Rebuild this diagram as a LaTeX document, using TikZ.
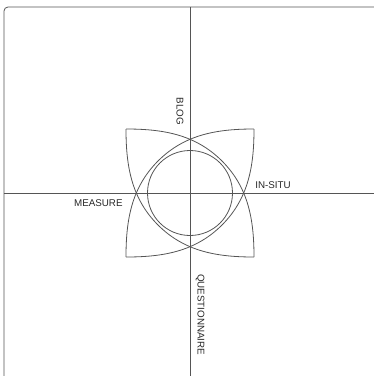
\documentclass[tikz,border=0pt]{standalone}
\usepackage{fontspec}
\setmainfont{Liberation Sans}
\definecolor{linegray}{RGB}{85,85,85}
\definecolor{textgray}{RGB}{40,40,40}
\begin{document}
\begin{tikzpicture}[x=1pt,y=-1pt,line width=0.8pt,
  ln/.style={draw=linegray},
  lbl/.style={font=\fontsize{9.8}{12}\selectfont, text=textgray, inner sep=0pt}]
\useasboundingbox (0,0) rectangle (374,376);
\clip (0,0) rectangle (374,376);
\draw[ln, rounded corners=4pt] (4,7) rectangle (380,390);
\draw[ln] (190,7) -- (190,376);
\draw[ln] (4,193) -- (374,193);
\begin{scope}[shift={(190,193)}]
  \draw[ln] (0,0) circle[radius=42.5pt];
  \draw[ln] (-64,-64) .. controls (-28,-64) and (5,-59) .. (32,-32) .. controls (59,-5) and (64,28) .. (64,64);
  \draw[ln] (64,-64) .. controls (64,-28) and (59,5) .. (32,32) .. controls (5,59) and (-28,64) .. (-64,64);
  \draw[ln] (64,64) .. controls (28,64) and (-5,59) .. (-32,32) .. controls (-59,5) and (-64,-28) .. (-64,-64);
  \draw[ln] (-64,64) .. controls (-64,28) and (-59,-5) .. (-32,-32) .. controls (-5,-59) and (28,-64) .. (64,-64);
\end{scope}
\node[lbl, anchor=east] (measure) at (123,203) {MEASURE};
\node[lbl, anchor=west] (insitu) at (255,185.5) {IN-SITU};
\node[lbl, rotate=-90] (blog) at (180,111.5) {BLOG};
\node[lbl, rotate=-90] (quest) at (200,314.7) {QUESTIONNAIRE};
\end{tikzpicture}
\end{document}
